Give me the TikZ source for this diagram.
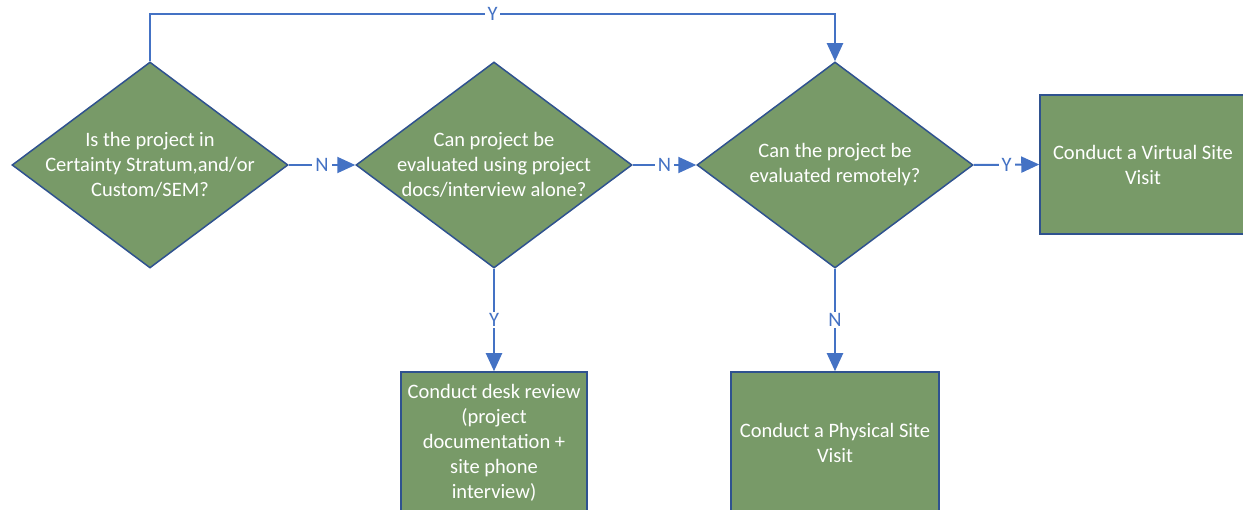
\documentclass[tikz,border=0pt]{standalone}
\usepackage{fontspec}
\setmainfont{Carlito}
\usetikzlibrary{shapes.geometric,arrows.meta}
\definecolor{boxgreen}{RGB}{120,154,104}
\definecolor{boxborder}{RGB}{47,82,143}
\definecolor{connblue}{RGB}{68,114,196}
\begin{document}
\begin{tikzpicture}[x=1pt,y=-1pt,
  decision/.style={diamond, draw=boxborder, line width=1.5pt, fill=boxgreen,
    minimum width=276pt, minimum height=206pt, inner sep=0pt},
  proc/.style={rectangle, draw=boxborder, line width=1.5pt, fill=boxgreen,
    inner sep=0pt, text=white, align=center, font=\fontsize{20.5}{25}\selectfont},
  txt/.style={text=white, align=center, font=\fontsize{20.5}{25}\selectfont, inner sep=0pt},
  conn/.style={draw=connblue, line width=2pt, -{Triangle[length=18pt,width=16pt]}},
  lbl/.style={fill=white, text=connblue, font=\fontsize{20.5}{24}\selectfont,
    inner xsep=3pt, inner ysep=1pt}]
\useasboundingbox (0,0) rectangle (1243,510);
\clip (0,0) rectangle (1243,510);

\node[decision] (d1) at (150,165) {};
\node[txt] (t1) at (d1) {Is the project in\\Certainty Stratum,and/or\\Custom/SEM?};
\node[decision] (d2) at (494,165) {};
\node[txt] (t2) at (d2) {Can project be\\evaluated using project\\docs/interview alone?};
\node[decision] (d3) at (835,165) {};
\node[txt] (t3) at (d3) {Can the project be\\evaluated remotely?};

\node[proc, minimum width=206pt, minimum height=139pt] (v) at (1143,164.5)
  {Conduct a Virtual Site\\Visit};
\node[proc, minimum width=186pt, minimum height=142pt] (dr) at (494,443)
  {Conduct desk review\\(project\\documentation +\\site phone\\interview)};
\node[proc, minimum width=208pt, minimum height=142pt] (ps) at (835,443)
  {Conduct a Physical Site\\Visit};

\draw[conn] (d1.east) -- node[lbl]{N} (d2.west);
\draw[conn] (d2.east) -- node[lbl]{N} (d3.west);
\draw[conn] (d3.east) -- node[lbl]{Y} (v.west);
\draw[conn] (d2.south) -- node[lbl]{Y} (dr.north);
\draw[conn] (d3.south) -- node[lbl]{N} (ps.north);
\coordinate (top) at (150,14);
\draw[conn] (d1.north) -- (top) -| node[lbl,pos=0.25]{Y} (d3.north);
\end{tikzpicture}
\end{document}
